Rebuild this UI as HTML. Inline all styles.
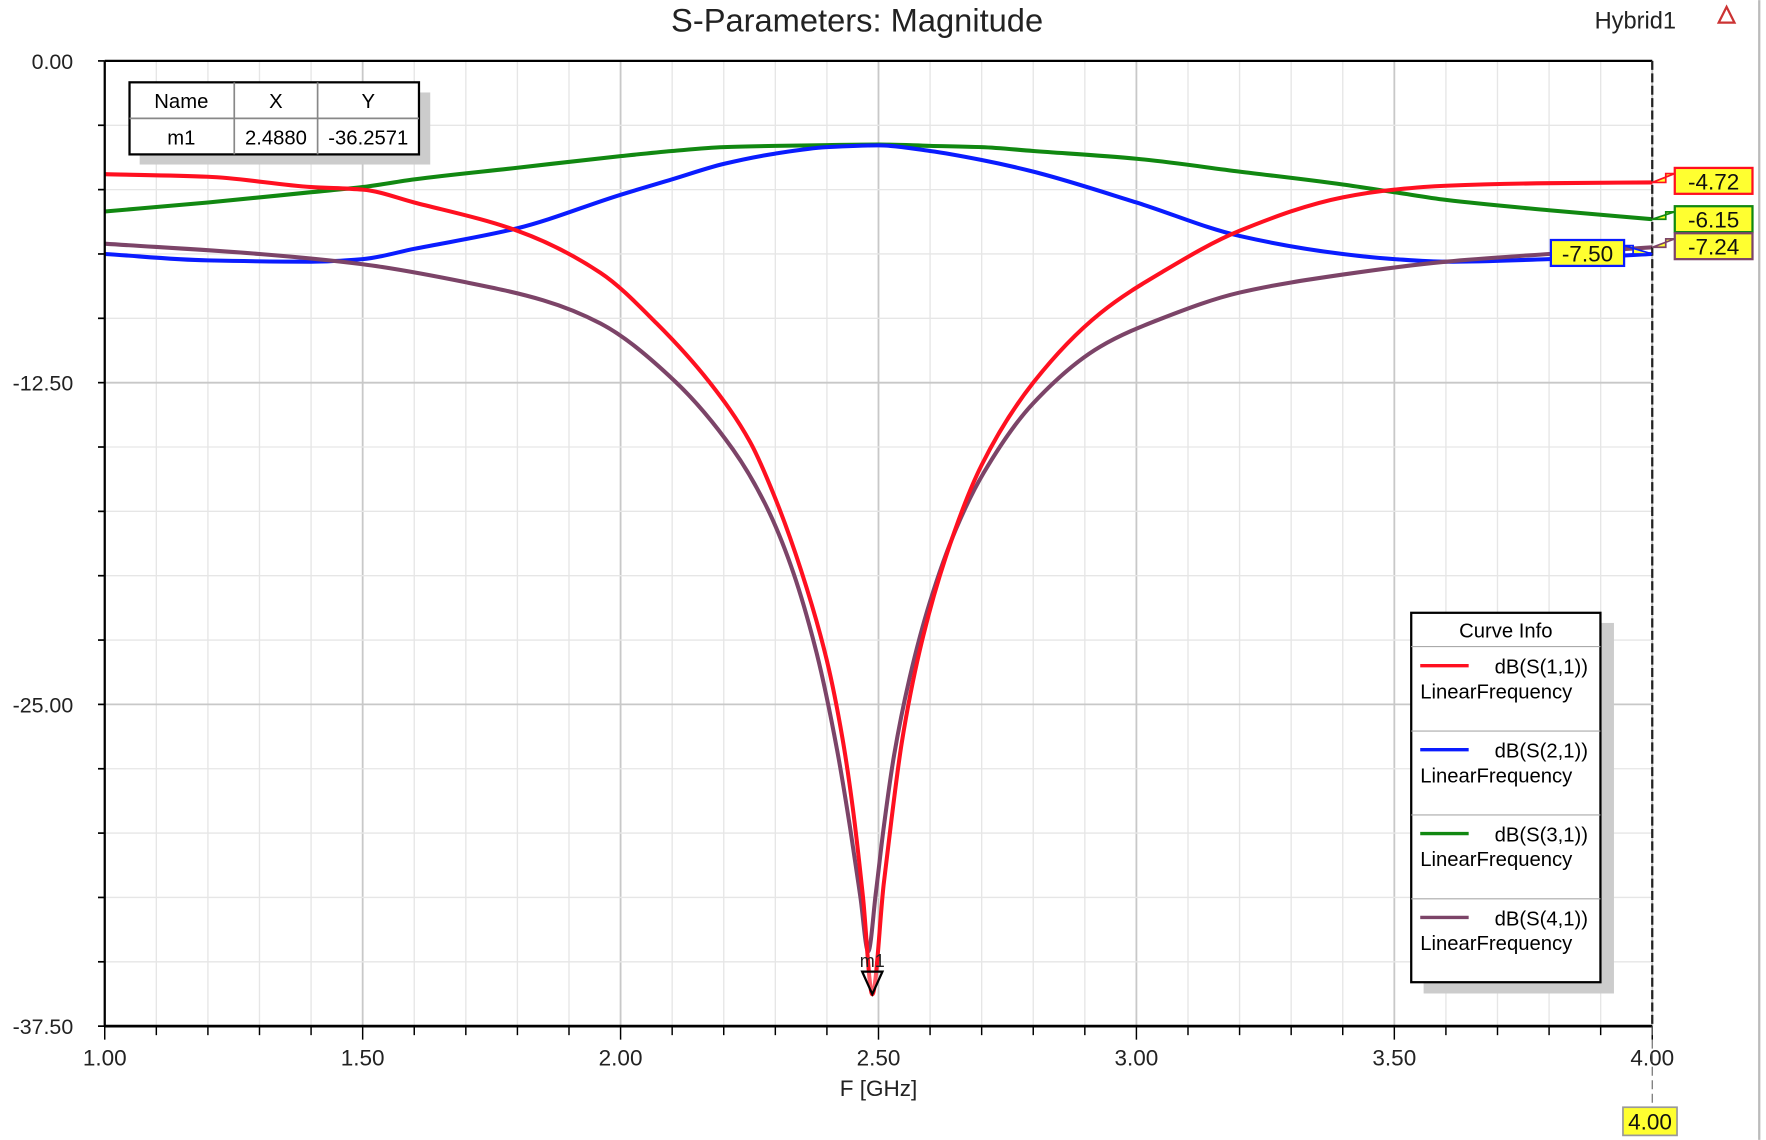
<!DOCTYPE html>
<html><head><meta charset="utf-8"><style>
html,body{margin:0;padding:0;background:#fff;}
svg{display:block;font-family:"Liberation Sans",sans-serif;}
</style></head><body>
<svg id="chart" width="1766" height="1140" viewBox="0 0 1568 1012" xmlns="http://www.w3.org/2000/svg">
<rect x="0" y="0" width="1568" height="1012" fill="#fff"/>
<line x1="1562" y1="0" x2="1562" y2="1012" stroke="#bbb" stroke-width="2"/>
<g id="grid"></g>
<g id="series"></g>
<g id="axes"></g>
<text x="761" y="28" font-size="29" text-anchor="middle" fill="#222">S-Parameters: Magnitude</text>
<text x="1452" y="25" font-size="21" text-anchor="middle" fill="#222">Hybrid1</text>
<g><polygon points="1533,6 1526,20 1540,20" fill="none" stroke="#c33" stroke-width="2"/></g>
<text x="780" y="973" font-size="20" text-anchor="middle" fill="#222">F [GHz]</text>
<g id="markertable">
<rect x="124" y="82" width="258" height="64" fill="#ccc"/>
<rect x="115" y="73" width="257" height="64" fill="#fff" stroke="#000" stroke-width="2"/>
<line x1="115" y1="105" x2="372" y2="105" stroke="#888" stroke-width="1.5"/>
<line x1="208" y1="73" x2="208" y2="137" stroke="#888" stroke-width="1.5"/>
<line x1="282" y1="73" x2="282" y2="137" stroke="#888" stroke-width="1.5"/>
<text x="161" y="96" font-size="18" text-anchor="middle">Name</text>
<text x="245" y="96" font-size="18" text-anchor="middle">X</text>
<text x="327" y="96" font-size="18" text-anchor="middle">Y</text>
<text x="161" y="128" font-size="18" text-anchor="middle">m1</text>
<text x="245" y="128" font-size="18" text-anchor="middle">2.4880</text>
<text x="327" y="128" font-size="18" text-anchor="middle">-36.2571</text>
</g>
<g id="legend">
<rect x="1264" y="553" width="169" height="329" fill="#ccc"/>
<rect x="1253" y="544" width="168" height="328" fill="#fff" stroke="#000" stroke-width="2"/>
<text x="1337" y="566" font-size="18" text-anchor="middle">Curve Info</text>
<line x1="1253" y1="574" x2="1421" y2="574" stroke="#aaa"/>
</g>
<g id="labels"></g>
</svg>
<script>
const NS="http://www.w3.org/2000/svg";
const freqS11=[1.0,1.2,1.4,1.5,1.6,1.8,1.961,2.07,2.173,2.251,2.30,2.35,2.40,2.43,2.45,2.47,2.488,2.51,2.525,2.545,2.58,2.63,2.70,2.8,2.93,3.05,3.2,3.4,3.5,3.6,3.8,4.0];
const s11=[-4.4,-4.5,-4.9,-5.0,-5.5,-6.6,-8.23,-10.2,-12.5,-14.8,-17.0,-19.8,-23.3,-26.3,-29.0,-32.5,-36.26,-32.0,-29.5,-26.5,-22.9,-19.3,-15.7,-12.5,-9.8,-8.2,-6.6,-5.3,-5.0,-4.85,-4.75,-4.72];
const freqS41=[1.0,1.3,1.5,1.7,1.85,1.961,2.103,2.218,2.28,2.33,2.38,2.42,2.445,2.465,2.48,2.495,2.51,2.53,2.56,2.60,2.65,2.704,2.8,2.93,3.05,3.2,3.4,3.6,3.8,4.0];
const s41=[-7.1,-7.5,-7.9,-8.6,-9.3,-10.2,-12.4,-15.1,-17.2,-19.6,-23.0,-26.8,-29.8,-32.5,-34.6,-32.3,-29.8,-27.0,-24.0,-21.0,-18.2,-16.0,-13.3,-11.1,-10.0,-9.0,-8.3,-7.8,-7.5,-7.24];
const freqFlat=[1.0,1.2,1.4,1.5,1.6,1.8,2.0,2.1,2.2,2.3,2.4,2.5,2.6,2.7,2.8,3.0,3.2,3.4,3.5,3.6,3.8,4.0];
const s21=[-7.5,-7.75,-7.8,-7.7,-7.3,-6.5,-5.2,-4.6,-4.0,-3.6,-3.35,-3.28,-3.5,-3.85,-4.3,-5.5,-6.8,-7.5,-7.7,-7.8,-7.7,-7.5];
const s31=[-5.85,-5.5,-5.1,-4.9,-4.6,-4.15,-3.7,-3.5,-3.35,-3.3,-3.27,-3.25,-3.3,-3.35,-3.5,-3.8,-4.3,-4.8,-5.1,-5.4,-5.8,-6.15];
const seriesNames=["dB(S(1,1))","dB(S(2,1))","dB(S(3,1))","dB(S(4,1))"];
const seriesColors=["#ff1020","#0a1cff","#118811","#7c4468"];
const xTicks=[1.0,1.5,2.0,2.5,3.0,3.5,4.0];
const yTicks=[0,-12.5,-25,-37.5];
const L=93,R=1467,T=54,B=911;
const xs=f=>L+(f-1)/3*(R-L);
const ys=v=>T+(-v)/37.5*(B-T);
function mk(tag,attrs,parent){const e=document.createElementNS(NS,tag);for(const k in attrs)e.setAttribute(k,attrs[k]);parent.appendChild(e);return e;}
const grid=document.getElementById('grid'),axes=document.getElementById('axes');
for(let i=0;i<=30;i++){const f=1+i*0.1,x=xs(f);const major=i%5===0;
 const g=mk('line',{x1:x,y1:T,x2:x,y2:B,stroke:major?'#c8c8c8':'#e6e6e6','stroke-width':major?1.6:1.2},grid);
 
 
 const t=mk('line',{x1:x,y1:B,x2:x,y2:B+(major?12:8),stroke:'#000','stroke-width':1.3},axes);
 
 }
for(let i=0;i<=15;i++){const v=-i*2.5,y=ys(v);const major=i%5===0;
 const g=mk('line',{x1:L,y1:y,x2:R,y2:y,stroke:major?'#c8c8c8':'#e6e6e6','stroke-width':major?1.6:1.2},grid);
 
 
 const t=mk('line',{x1:L-6,y1:y,x2:L,y2:y,stroke:'#000','stroke-width':1.5},axes);
 
 }
xTicks.forEach(f=>{const t=mk('text',{x:xs(f),y:B+35,'font-size':20,'text-anchor':'middle',fill:'#222'},axes);t.textContent=f.toFixed(2);
 
 });
yTicks.forEach(v=>{const t=mk('text',{x:L-28,y:ys(v)+7,'font-size':19,'text-anchor':'end',fill:'#222'},axes);t.textContent=v.toFixed(2);
 
 });
mk('line',{x1:L,y1:T,x2:R,y2:T,stroke:'#000','stroke-width':2},axes);
mk('line',{x1:L,y1:T,x2:L,y2:B,stroke:'#000','stroke-width':2},axes);
mk('line',{x1:L,y1:B,x2:R,y2:B,stroke:'#000','stroke-width':2.5},axes);
mk('line',{x1:R,y1:T,x2:R,y2:B,stroke:'#222','stroke-width':2,'stroke-dasharray':'8,3'},axes);
mk('line',{x1:R,y1:B,x2:R,y2:983,stroke:'#666','stroke-width':1,'stroke-dasharray':'8,4'},axes);
function path(fs,vals){const X=fs.map(xs),Y=vals.map(ys),n=X.length;
 const d=[],m=new Array(n);
 for(let i=0;i<n-1;i++)d.push((Y[i+1]-Y[i])/(X[i+1]-X[i]));
 m[0]=d[0];m[n-1]=d[n-2];
 for(let i=1;i<n-1;i++){if(d[i-1]*d[i]<=0)m[i]=0;else{const h0=X[i]-X[i-1],h1=X[i+1]-X[i];const w1=2*h1+h0,w2=h1+2*h0;m[i]=(w1+w2)/(w1/d[i-1]+w2/d[i]);}}
 let s='M'+X[0]+','+Y[0];
 for(let i=0;i<n-1;i++){const h=(X[i+1]-X[i])/3;
  s+=` C${X[i]+h},${Y[i]+m[i]*h} ${X[i+1]-h},${Y[i+1]-m[i+1]*h} ${X[i+1]},${Y[i+1]}`;}
 return s;}
const sg=document.getElementById('series');
const allSeries=[[freqS11,s11],[freqFlat,s21],[freqFlat,s31],[freqS41,s41]];
const order=[2,1,3,0];
order.forEach(k=>{const e=mk('path',{d:path(allSeries[k][0],allSeries[k][1]),fill:'none',stroke:seriesColors[k],'stroke-width':3.6,'stroke-linejoin':'round'},sg);
 
 });
const mg=mk('g',{},sg);


const mx=xs(2.488),my=ys(-36.2571);
mk('polygon',{points:`${mx-9},${my-20} ${mx+9},${my-20} ${mx},${my}`,fill:'#fff','fill-opacity':0.3,stroke:'#000','stroke-width':2},mg);
const mt=mk('text',{x:mx,y:my-24,'font-size':16,'text-anchor':'middle',fill:'#222'},mg);mt.textContent='m1';
const lg=document.getElementById('legend');
seriesNames.forEach((n,i)=>{const y0=591+i*74.5;
 const g=mk('g',{},lg);
 
 
 mk('line',{x1:1261,y1:y0,x2:1304,y2:y0,stroke:seriesColors[i],'stroke-width':3},g);
 const t1=mk('text',{x:1410,y:y0+7,'font-size':18,'text-anchor':'end'},g);t1.textContent=n;
 const t2=mk('text',{x:1261,y:y0+29,'font-size':18},g);t2.textContent='LinearFrequency';
 if(i<3)mk('line',{x1:1253,y1:y0+58,x2:1421,y2:y0+58,stroke:'#aaa'},g);});
const lab=document.getElementById('labels');
function endLabel(vals,k,bx,by,w){const v=vals[vals.length-1],y=ys(v);
 const g=mk('g',{},lab);
 
 
 const ty=Math.min(Math.max(y,by+4),by+19);
 const pts=bx>R?`${R},${y} ${bx-8},${ty} ${bx-8},${by+5} ${bx},${by+5}`:`${R},${y} ${bx+w+8},${ty} ${bx+w+8},${by+5} ${bx+w},${by+5}`;
 mk('polygon',{points:pts,fill:'#ffff30',stroke:seriesColors[k],'stroke-width':1.5},g);
 mk('rect',{x:bx,y:by,width:w,height:23,fill:'#ffff30',stroke:seriesColors[k],'stroke-width':2},g);
 const t=mk('text',{x:bx+w/2,y:by+19,'font-size':20,'text-anchor':'middle',fill:'#111'},g);t.textContent=v.toFixed(2);}
endLabel(s11,0,1487,149,69);
endLabel(s31,2,1487,183,69);
endLabel(s41,3,1487,207,69);
endLabel(s21,1,1377,213,65);
const xb=mk('g',{},lab);


mk('rect',{x:1441,y:983,width:48,height:25,fill:'#ffff30',stroke:'#999','stroke-width':1.5},xb);
const xt=mk('text',{x:1465,y:1003,'font-size':20,'text-anchor':'middle',fill:'#111'},xb);xt.textContent='4.00';
</script>
</body></html>
